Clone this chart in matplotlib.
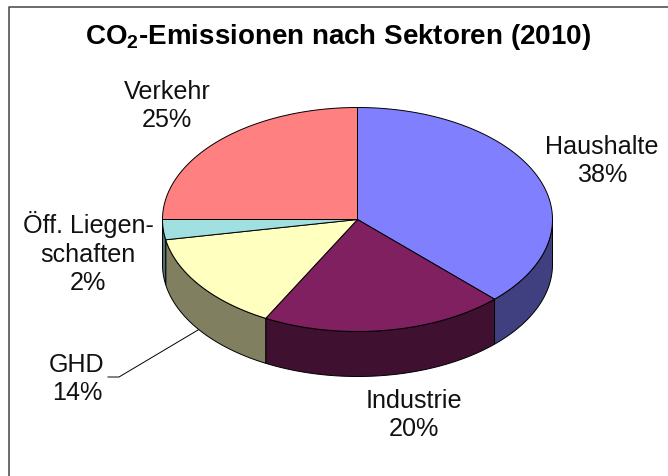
import numpy as np
import matplotlib
matplotlib.use("Agg")
import matplotlib.pyplot as plt
from matplotlib.patches import Polygon

plt.rcParams["font.family"] = ["Liberation Sans", "DejaVu Sans"]
plt.rcParams["mathtext.fontset"] = "custom"
plt.rcParams["mathtext.bf"] = "Liberation Sans:bold"
plt.rcParams["mathtext.rm"] = "Liberation Sans"

sectors = ["Haushalte", "Industrie", "GHD", "Öff. Liegen-\nschaften", "Verkehr"]
# shares as they are drawn in the picture, printed labels are below
shares = [37.6, 20.2, 14.3, 2.9, 25.0]
printed = ["38%", "20%", "14%", "2%", "25%"]
top_colors = ["#8080ff", "#802060", "#ffffc0", "#a0e0e0", "#ff8080"]
side_colors = ["#404080", "#401030", "#808060", "#507070", "#804040"]

# pie geometry in pixels
cx, cy = 357.5, 220.5
rx, ry = 195, 112
depth = 45


def rim(a0, a1):
    # a is clockwise from 12 o'clock, in degrees
    a = np.radians(np.linspace(a0, a1, 120))
    return np.column_stack([cx + rx * np.sin(a), cy - ry * np.cos(a)])


fig = plt.figure(figsize=(6.68, 4.77), dpi=100)
ax = fig.add_axes([0, 0, 1, 1])
ax.set_xlim(0, 668)
ax.set_ylim(477, 0)
ax.axis("off")

# chart frame, runs off the image on the right and bottom
ax.plot([8.5, 8.5, 668], [477, 8, 8], color="#444444", lw=1.1, solid_capstyle="butt")

edges = np.concatenate([[0], np.cumsum(shares)]) / sum(shares) * 360

# side walls first, only the front half of the ellipse is visible
for i in range(len(shares)):
    a0, a1 = max(edges[i], 90), min(edges[i + 1], 270)
    if a1 <= a0:
        continue
    upper = rim(a0, a1)
    lower = upper[::-1] + [0, depth]
    ax.add_patch(Polygon(np.vstack([upper, lower]), closed=True, fc=side_colors[i],
                         ec="black", lw=0.7, zorder=2))

# top face
for i in range(len(shares)):
    pts = np.vstack([[cx, cy], rim(edges[i], edges[i + 1])])
    ax.add_patch(Polygon(pts, closed=True, fc=top_colors[i], ec="black", lw=0.7, zorder=3))

ax.text(337.5, 37, r"CO$\mathbf{_2}$-Emissionen nach Sektoren (2010)", ha="center", va="center",
        fontsize=20, fontweight="bold", color="black")

label_pos = [(602, 161), (414, 415), (77, 379), (88, 253), (167, 106)]
for name, pct, (x, y) in zip(sectors, printed, label_pos):
    ax.text(x, y, name + "\n" + pct, ha="center", va="center", fontsize=18.1, linespacing=1.24,
            color="#111111")

# leader line for GHD
ax.plot([108, 119, 198], [378, 378, 331], color="black", lw=0.7)

fig.savefig("out.png", dpi=100)
